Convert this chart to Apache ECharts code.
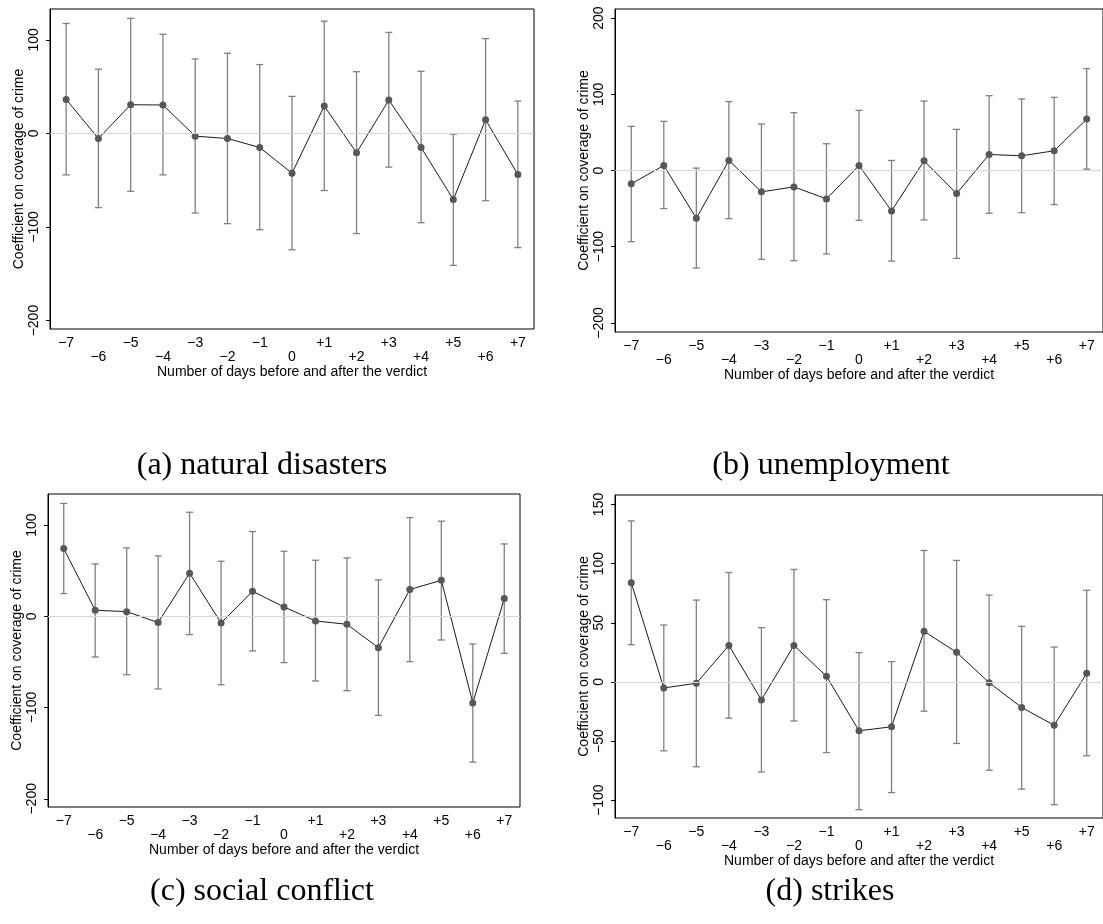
<!DOCTYPE html>
<html>
<head>
<meta charset="utf-8">
<script src="https://cdn.jsdelivr.net/npm/echarts@6/dist/echarts.min.js"></script>
<style>
    body { margin: 0; background: #fff; }
    #chart { width: 1103px; height: 924px; }
</style>
</head>
<body>
<div id="chart"></div>
<script>
// days around the verdict
var days = ['\u22127', '\u22126', '\u22125', '\u22124', '\u22123', '\u22122', '\u22121', '0',
    '+1', '+2', '+3', '+4', '+5', '+6', '+7'];

// (a) natural disasters
var natCoef = [36.4, -5.4, 30.7, 30.4, -2.9, -5.4, -15, -42.5, 29.3, -20.7, 35.7, -15, -70.7, 14.6, -43.9];
var natHi = [117.5, 68.6, 123, 106, 79.6, 85.7, 73.6, 39.6, 120, 66, 108, 66.4, -0.7, 101.4, 34.6];
var natLo = [-44.3, -79.3, -61.8, -44.3, -85, -96.4, -102.9, -124.3, -61, -107, -36, -95.4, -141, -71.8, -122];

// (b) unemployment
var unempCoef = [-17.5, 6.6, -62.7, 13.2, -28, -21.5, -37.3, 6.6, -53, 12.7, -30.3, 21, 19.3, 25.9, 67.5];
var unempHi = [57.9, 64.5, 3.1, 90.4, 61, 75.9, 35.1, 78.9, 13.2, 91.2, 54, 98.2, 93.9, 96, 133.8];
var unempLo = [-93.4, -50, -128, -63.2, -116.7, -118.4, -109.6, -65.4, -118.9, -64.9, -115.4, -56.1, -55.3, -44.7, 1.8];

// (c) social conflict
var socCoef = [74.2, 6.6, 5.1, -6.9, 47.2, -7.3, 27.4, 10.2, -5.1, -8.8, -34.4, 29.3, 39.5, -95, 19.4];
var socHi = [123.6, 57.4, 75, 66.2, 114, 60.3, 92.9, 71.3, 61.4, 64, 39.9, 108.2, 104.2, -30.3, 79.3];
var socLo = [24.9, -44.6, -64, -79.7, -20.1, -75, -38, -50.8, -70.9, -81.5, -108.6, -49.7, -26, -159.8, -40.6];

// (d) strikes
var strCoef = [83.8, -5.1, -1.1, 30.9, -15.2, 30.9, 4.8, -41.3, -37.9, 42.8, 25, -0.6, -21.6, -36.6, 7.3];
var strHi = [136.1, 48.1, 69.2, 92.5, 45.9, 95.1, 69.5, 24.8, 17.2, 111.1, 102.7, 73.4, 47, 29.5, 77.4];
var strLo = [31.5, -58.2, -71.7, -30.6, -76.1, -33, -59.7, -108, -93.5, -24.7, -52, -74.6, -90.6, -103.7, -62.4];

// y tick labels per panel
var ticksA = [-200, -100, 0, 100];
var ticksB = [-200, -100, 0, 100, 200];
var ticksC = [-200, -100, 0, 100];
var ticksD = [-100, -50, 0, 50, 100, 150];

var captions = ['(a) natural disasters', '(b) unemployment', '(c) social conflict', '(d) strikes'];

var sans = 'Liberation Sans, Arial, Helvetica, sans-serif';
var serif = 'Liberation Serif, Times New Roman, serif';

var grids = [
    {left: 50, top: 9, width: 484, height: 320},
    {left: 615, top: 9, width: 489, height: 323},
    {left: 48, top: 494, width: 472, height: 313},
    {left: 615, top: 495, width: 489, height: 323}
];
var yRange = [[-209, 133], [-212, 212], [-209, 134], [-115, 158]];
var yTicks = [ticksA, ticksB, ticksC, ticksD];
var panels = [
    [natCoef, natLo, natHi],
    [unempCoef, unempLo, unempHi],
    [socCoef, socLo, socHi],
    [strCoef, strLo, strHi]
];

function fmtY(v) {
    return v < 0 ? '\u2212' + Math.abs(v) : String(v);
}

var xAxes = [], yAxes = [], series = [];
grids.forEach(function (g, k) {
    g.show = true;
    g.borderColor = '#000';
    g.borderWidth = 1;
    g.containLabel = false;
    xAxes.push({
        type: 'category', gridIndex: k, data: days, boundaryGap: true,
        axisLine: {lineStyle: {color: '#000', width: 1}},
        axisTick: {alignWithLabel: true, length: 5, lineStyle: {color: '#000'}},
        axisLabel: {
            color: '#000', fontSize: 14, fontFamily: sans, margin: 7, lineHeight: 14, interval: 0,
            formatter: function (v, i) { return i % 2 === 0 ? v : '\n' + v }
        },
        name: 'Number of days before and after the verdict',
        nameLocation: 'middle', nameGap: 34,
        nameTextStyle: {color: '#000', fontSize: 14, fontFamily: sans}
    });
    yAxes.push({
        type: 'value', gridIndex: k, min: yRange[k][0], max: yRange[k][1],
        axisLine: {show: true, lineStyle: {color: '#000', width: 1}},
        axisTick: {show: true, length: 4, customValues: yTicks[k], lineStyle: {color: '#000'}},
        axisLabel: {
            rotate: 90, color: '#000', fontSize: 14, fontFamily: sans, margin: 9,
            customValues: yTicks[k], formatter: fmtY
        },
        splitLine: {show: false},
        name: 'Coefficient on coverage of crime',
        nameLocation: 'middle', nameGap: 24,
        nameTextStyle: {color: '#000', fontSize: 14, fontFamily: sans}
    });

    var p = panels[k];
    series.push({
        type: 'custom', xAxisIndex: k, yAxisIndex: k, silent: true, z: 2,
        data: p[1].map(function (lo, i) { return [i, lo, p[2][i]] }),
        encode: {x: 0, y: [1, 2]},
        renderItem: function (params, api) {
            var hi = api.coord([api.value(0), api.value(2)]);
            var lo = api.coord([api.value(0), api.value(1)]);
            var w = 3.5;
            var st = {stroke: '#808080', lineWidth: 1.3};
            return {
                type: 'group', children: [
                    {type: 'line', shape: {x1: hi[0], y1: hi[1], x2: lo[0], y2: lo[1]}, style: st},
                    {type: 'line', shape: {x1: hi[0] - w, y1: hi[1], x2: hi[0] + w, y2: hi[1]}, style: st},
                    {type: 'line', shape: {x1: lo[0] - w, y1: lo[1], x2: lo[0] + w, y2: lo[1]}, style: st}
                ]
            }
        },
        markLine: {
            silent: true, symbol: ['none', 'none'], label: {show: false},
            lineStyle: {color: '#d6d6d6', type: 'solid', width: 1},
            data: [{yAxis: 0}]
        }
    });
    series.push({
        type: 'line', xAxisIndex: k, yAxisIndex: k, z: 3, data: p[0],
        symbol: 'circle', symbolSize: 7, animation: false,
        itemStyle: {color: '#575757'},
        lineStyle: {color: '#1a1a1a', width: 1}
    });
});

var titles = [
    {text: captions[0], left: 262, top: 450},
    {text: captions[1], left: 831, top: 450},
    {text: captions[2], left: 262, top: 876},
    {text: captions[3], left: 830, top: 876}
];
titles.forEach(function (t) {
    t.textAlign = 'center';
    t.padding = 0;
    t.textStyle = {color: '#000', fontSize: 32, fontWeight: 'normal', fontFamily: serif};
});

var chart = echarts.init(document.getElementById('chart'));
chart.setOption({
    animation: false,
    backgroundColor: '#fff',
    title: titles,
    grid: grids,
    xAxis: xAxes,
    yAxis: yAxes,
    series: series
});
</script>
</body>
</html>
